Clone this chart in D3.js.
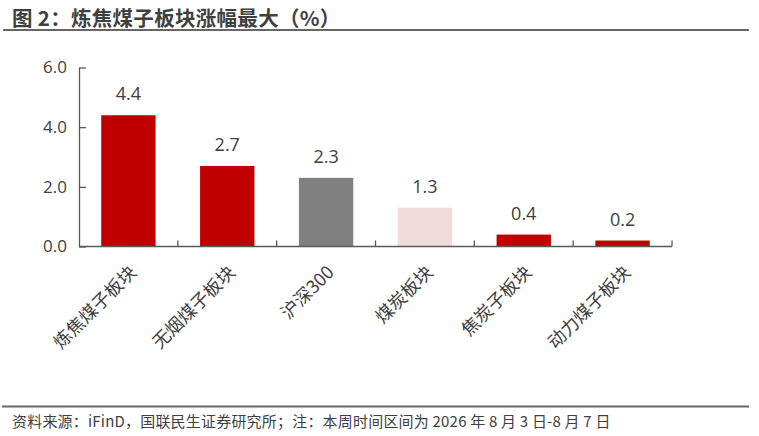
<!DOCTYPE html>
<html><head><meta charset="utf-8">
<script src="https://cdn.jsdelivr.net/npm/d3@7/dist/d3.min.js"></script>
<style>
body{margin:0;background:#fff;}
svg{display:block;font-family:"Noto Sans CJK SC","Noto Sans",sans-serif;}
</style></head>
<body><svg id="c" width="759" height="436"></svg>
<script>
const categories = ["炼焦煤子板块","无烟煤子板块","沪深300","煤炭板块","焦炭子板块","动力煤子板块"];
const values = [4.4, 2.7, 2.3, 1.3, 0.4, 0.2];
const barColors = ["#C00000","#C00000","#808080","#F2DCDB","#C00000","#C00000"];
const yTicks = [0, 2, 4, 6];
const titleText = "图 2：炼焦煤子板块涨幅最大（%）";
const sourceText = "资料来源：iFinD，国联民生证券研究所；注：本周时间区间为 2026 年 8 月 3 日-8 月 7 日";

const svg = d3.select("#c");
const axisColor = "#595959", textColor = "#404040";

// title
svg.append("text").attr("x", 12).attr("y", 26)
  .attr("font-size", 20.5).attr("font-weight", "bold").attr("fill", "#404040")
  .attr("letter-spacing", 0.3)
  .text(titleText);
svg.append("line").attr("x1", 3).attr("x2", 749).attr("y1", 30).attr("y2", 30)
  .attr("stroke", "#666").attr("stroke-width", 2);

// footer
svg.append("line").attr("x1", 2).attr("x2", 749).attr("y1", 406.5).attr("y2", 406.5)
  .attr("stroke", "#666").attr("stroke-width", 2);
svg.append("text").attr("x", 12).attr("y", 427)
  .attr("font-size", 15).attr("fill", "#404040").attr("letter-spacing", 0.2).text(sourceText);

const x = d3.scaleBand().domain(categories).range([79, 672]).paddingInner(0.45).paddingOuter(0.225);
const y = d3.scaleLinear().domain([0, 6]).range([246.5, 67.5]);

// bars
svg.append("g").selectAll("rect").data(values).join("rect")
  .attr("x", (d, i) => x(categories[i]))
  .attr("width", x.bandwidth())
  .attr("y", d => y(d))
  .attr("height", d => y(0) - y(d))
  .attr("fill", (d, i) => barColors[i]);

// value labels
svg.append("g").selectAll("text").data(values).join("text")
  .attr("x", (d, i) => x(categories[i]) + x.bandwidth() / 2)
  .attr("y", d => y(d) - 15)
  .attr("text-anchor", "middle").attr("font-size", 18).attr("fill", textColor)
  .attr("font-family", "'Open Sans','Noto Sans',sans-serif")
  .text(d => d.toFixed(1));

// y axis
const yAxis = svg.append("g").attr("transform", "translate(79,0)")
  .call(d3.axisLeft(y).tickValues(yTicks).tickFormat(d3.format(".1f")).tickSizeInner(-7).tickSizeOuter(0).tickPadding(12));
yAxis.select(".domain").attr("stroke", axisColor).attr("stroke-width", 1.3);
yAxis.selectAll(".tick line").attr("stroke", axisColor).attr("stroke-width", 1.3);
yAxis.selectAll(".tick text").attr("fill", textColor).attr("font-size", 17)
  .attr("font-family", "'Open Sans','Noto Sans',sans-serif");

// x axis
const step = x.step();
const xBoundaries = d3.range(categories.length + 1).map(i => 79 + i * step);
const xAxis = svg.append("g").attr("transform", `translate(0,${y(0)})`);
xAxis.append("line").attr("x1", 79).attr("x2", 672).attr("stroke", axisColor).attr("stroke-width", 1.3);
xAxis.selectAll("line.tk").data(xBoundaries.slice(1)).join("line").attr("class", "tk")
  .attr("x1", d => d).attr("x2", d => d).attr("y1", 0).attr("y2", -6)
  .attr("stroke", axisColor).attr("stroke-width", 1.3);
xAxis.selectAll("text").data(categories).join("text")
  .attr("transform", d => `translate(${x(d) + x.bandwidth() / 2 + 9},${27}) rotate(-45)`)
  .attr("text-anchor", "end").attr("font-size", 18).attr("fill", textColor)
  .text(d => d);
</script></body></html>
